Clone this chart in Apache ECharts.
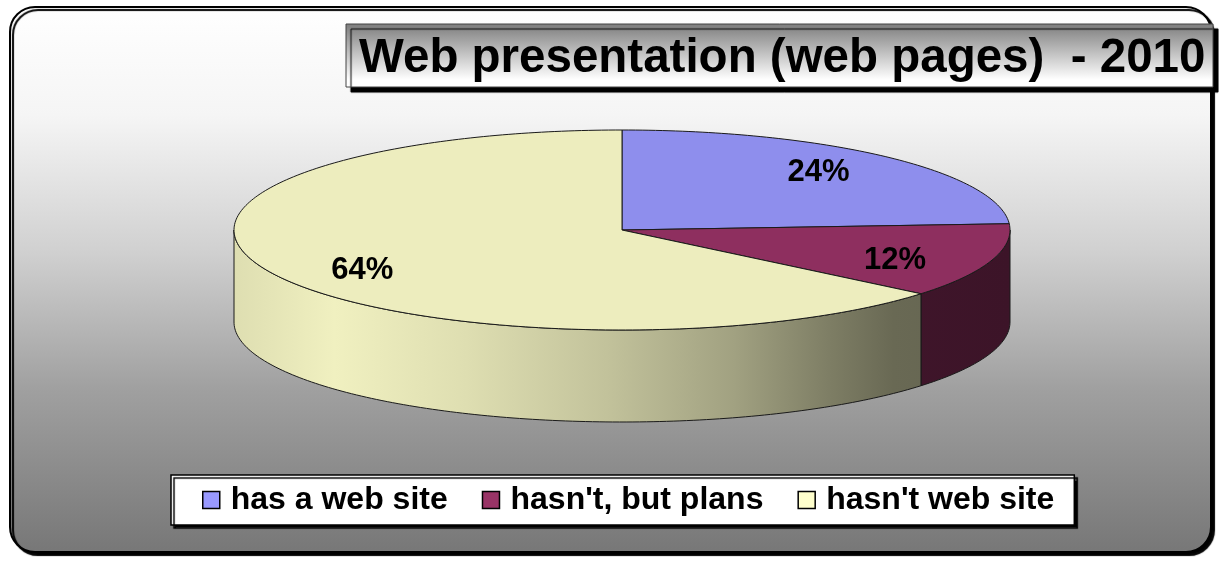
<!DOCTYPE html>
<html>
<head>
<meta charset="utf-8">
<script src="https://cdn.jsdelivr.net/npm/echarts@6/dist/echarts.min.js"></script>
<style>
  html, body { margin: 0; padding: 0; background: #ffffff; }
  #chart { width: 1219px; height: 563px; }
</style>
</head>
<body>
<div id="chart"></div>
<script>
// ---- data ----
const categories = ['has a web site', "hasn't, but plans", "hasn't web site"];
const shares = [24, 12, 64];
const sliceColors = ['#9999ff', '#993366', '#ffffcc'];
const titleText = 'Web presentation (web pages)  - 2010';

// ---- look ----
const FONT = '"Liberation Sans", Arial, Helvetica, sans-serif';
// tilted disc: centre, radii of the top ellipse and the slab thickness
const pie = { cx: 622, cy: 230, rx: 388, ry: 100, depth: 92 };
const TOP_SHADE = 0.93;
// brightness of the rim across the disc width (left -> right)
const sideShade = [[0, 0.87], [0.13, 0.94], [0.3, 0.87], [0.48, 0.76], [0.645, 0.63], [0.77, 0.49], [0.85, 0.41], [1, 0.39]];
// label anchor: fraction of the radii, plus a small drop
const LABEL_KX = 0.74, LABEL_KY = 0.85, LABEL_DROP = 4;

function shade(hex, f) {
  const n = parseInt(hex.slice(1), 16);
  const c = [(n >> 16) & 255, (n >> 8) & 255, n & 255].map(v => Math.max(0, Math.min(255, Math.round(v * f))));
  return 'rgb(' + c.join(',') + ')';
}

const total = shares.reduce((a, b) => a + b, 0);

function sliceRange(i) {
  let start = 0;
  for (let k = 0; k < i; k++) start += shares[k];
  return [start / total * 360, (start + shares[i]) / total * 360];
}

// angle measured clockwise from 12 o'clock on the ellipse
function pt(deg, dy) {
  const r = deg * Math.PI / 180;
  return [pie.cx + pie.rx * Math.sin(r), pie.cy - pie.ry * Math.cos(r) + (dy || 0)];
}

function arc(a0, a1, dy) {
  const n = Math.max(2, Math.ceil(Math.abs(a1 - a0)));
  const pts = [];
  for (let i = 0; i <= n; i++) pts.push(pt(a0 + (a1 - a0) * i / n, dy));
  return pts;
}

function renderSlice(i) {
  return function (params, api) {
    const [a0, a1] = sliceRange(i);
    const base = sliceColors[i];
    const children = [];

    // visible front rim: the part of the slice between 3 and 9 o'clock (lower half)
    const s0 = Math.max(a0, 90), s1 = Math.min(a1, 270);
    if (s1 > s0) {
      const upper = arc(s0, s1, 0);
      const lower = arc(s1, s0, pie.depth);
      children.push({
        type: 'polygon',
        z2: 1,
        shape: { points: upper.concat(lower) },
        style: {
          fill: {
            type: 'linear', global: true,
            x: pie.cx - pie.rx, y: 0, x2: pie.cx + pie.rx, y2: 0,
            colorStops: sideShade.map(([o, f]) => ({ offset: o, color: shade(base, f) }))
          },
          stroke: '#1a1a1a',
          lineWidth: 1
        }
      });
    }

    // top face
    children.push({
      type: 'polygon',
      z2: 10,
      shape: { points: [[pie.cx, pie.cy]].concat(arc(a0, a1, 0)) },
      style: { fill: shade(base, TOP_SHADE), stroke: '#1a1a1a', lineWidth: 1 }
    });

    // percentage label
    const mid = (a0 + a1) / 2 * Math.PI / 180;
    children.push({
      type: 'text',
      z2: 30,
      x: pie.cx + pie.rx * Math.sin(mid) * LABEL_KX,
      y: pie.cy - pie.ry * Math.cos(mid) * LABEL_KY + LABEL_DROP,
      style: {
        text: Math.round(shares[i] / total * 100) + '%',
        fill: '#000',
        font: 'bold 31px ' + FONT,
        align: 'center',
        verticalAlign: 'middle'
      }
    });

    return { type: 'group', children: children };
  };
}

const chart = echarts.init(document.getElementById('chart'), null, { renderer: 'canvas' });

chart.setOption({
  animation: false,
  graphic: [
    {
      type: 'rect',
      z: 0,
      shape: { x: 10, y: 7, width: 1201, height: 545, r: 25 },
      style: {
        fill: {
          type: 'linear', x: 0, y: 0, x2: 0, y2: 1,
          colorStops: [
            { offset: 0, color: '#ffffff' },
            { offset: 0.2, color: '#f5f5f5' },
            { offset: 0.45, color: '#d0d0d0' },
            { offset: 0.7, color: '#a0a0a0' },
            { offset: 1, color: '#777777' }
          ]
        },
        stroke: '#000',
        lineWidth: 2,
        shadowColor: '#000',
        shadowOffsetX: 3,
        shadowOffsetY: 3,
        shadowBlur: 1
      }
    },
    {
      type: 'rect',
      z: 1,
      shape: { x: 346, y: 24, width: 867, height: 63 },
      style: {
        fill: {
          type: 'linear', x: 0, y: 0, x2: 0, y2: 1,
          colorStops: [
            { offset: 0, color: '#7c7c7c' },
            { offset: 0.88, color: '#ffffff' },
            { offset: 1, color: '#ffffff' }
          ]
        },
        stroke: '#444',
        lineWidth: 1,
        shadowColor: '#000',
        shadowOffsetX: 5,
        shadowOffsetY: 5,
        shadowBlur: 1
      }
    }
  ],
  title: {
    text: titleText,
    left: 359,
    top: 35,
    padding: 0,
    z: 6,
    textStyle: { fontSize: 47.5, fontWeight: 'bold', fontFamily: FONT, color: '#000' }
  },
  legend: {
    data: categories,
    left: 171,
    top: 475,
    padding: [9, 20, 9, 31],
    itemGap: 34,
    itemWidth: 17,
    itemHeight: 17,
    icon: 'rect',
    backgroundColor: '#ffffff',
    borderColor: '#000',
    borderWidth: 1.5,
    borderRadius: 0,
    shadowColor: '#000',
    shadowOffsetX: 3,
    shadowOffsetY: 3,
    shadowBlur: 1,
    itemStyle: { borderColor: '#000', borderWidth: 1.5 },
    textStyle: { fontSize: 32, fontWeight: 'bold', fontFamily: FONT, color: '#000', lineHeight: 32, padding: [0, 0, 0, 6] }
  },
  series: categories.map((name, i) => ({
    type: 'custom',
    name: name,
    coordinateSystem: 'none',
    itemStyle: { color: sliceColors[i] },
    renderItem: renderSlice(i),
    data: [[shares[i]]]
  }))
});
</script>
</body>
</html>
